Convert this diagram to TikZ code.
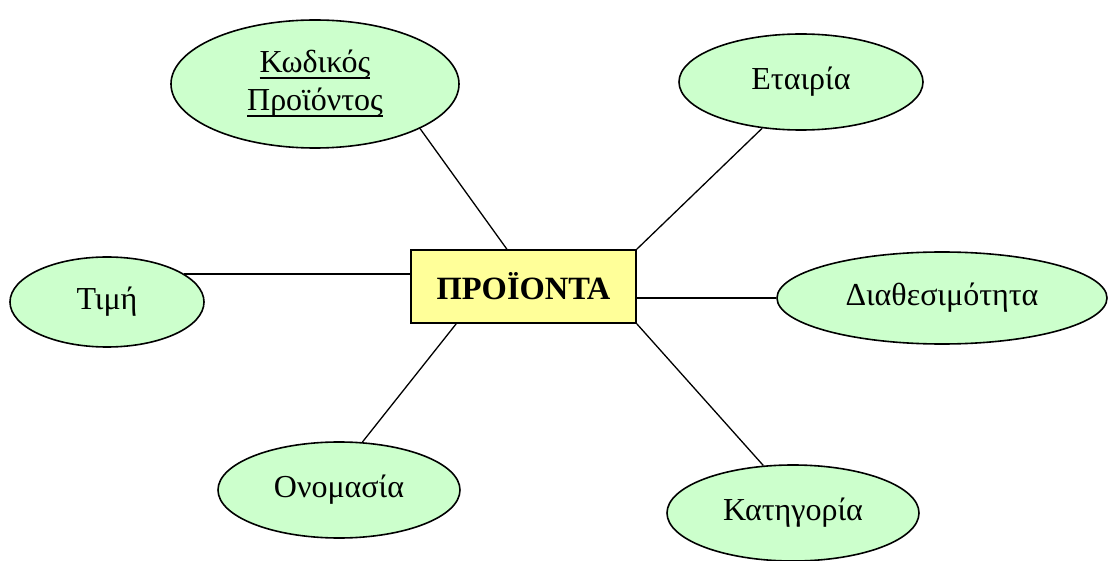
\documentclass[tikz,border=0pt]{standalone}
\usepackage{fontspec}
\setmainfont{Liberation Serif}
\usetikzlibrary{shapes.geometric}
\definecolor{attrgreen}{HTML}{CCFFCC}
\definecolor{entyellow}{HTML}{FFFF99}
\newcommand{\ulword}[1]{\setbox0\hbox{#1}\rlap{\rule[-6pt]{\wd0}{1.5pt}}\box0}

\begin{document}
\begin{tikzpicture}[x=1pt,y=-1pt,
  attr/.style={draw,ellipse,line width=1.6pt,fill=attrgreen,inner sep=0pt,align=center,font=\fontsize{32}{38}\selectfont},
  ent/.style={draw,line width=1.6pt,fill=entyellow,minimum width=225pt,minimum height=73pt,inner sep=0pt,font=\fontsize{32.5}{38}\selectfont\bfseries},
  conn/.style={line width=1.3pt}]
  \useasboundingbox (0,0) rectangle (1109,561);
  \node[ent] (prod) at (523.5,286.5) {ΠΡΟΪΟΝΤΑ};
  \node[attr,minimum width=288pt,minimum height=128pt] (kod) at (315,84) {\ulword{Κωδικός}\\\ulword{Προϊόντος}};
  \node[attr,minimum width=244pt,minimum height=96pt]  (eta) at (801,82)  {Εταιρία};
  \node[attr,minimum width=194pt,minimum height=90pt]  (tim) at (107,302) {Τιμή};
  \node[attr,minimum width=330pt,minimum height=92pt]  (dia) at (942,298) {Διαθεσιμότητα};
  \node[attr,minimum width=242pt,minimum height=96pt]  (ono) at (339,490) {Ονομασία};
  \node[attr,minimum width=252pt,minimum height=96pt]  (kat) at (793,513) {Κατηγορία};
  \draw[conn] (kod.-23) -- (prod.114);
  \draw[conn] (eta.230) -- (prod.north east);
  \draw[conn] (tim.20) -- (tim.20 -| prod.west);
  \draw[conn] (prod.east |- dia.west) -- (dia.west);
  \draw[conn] (prod.209) -- (ono.64);
  \draw[conn] (prod.south east) -- (kat.122);
\end{tikzpicture}
\end{document}
